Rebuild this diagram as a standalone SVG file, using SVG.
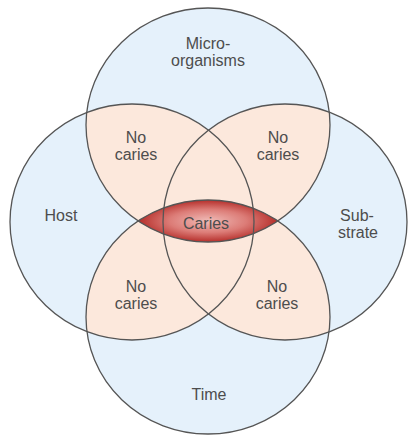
<svg xmlns="http://www.w3.org/2000/svg" xmlns:xlink="http://www.w3.org/1999/xlink" width="409" height="438" viewBox="0 0 409 438">
<style>
.fill{fill:#e5f1fb}
.peach{fill:#fce8dc}
.outline{fill:none;stroke:#555;stroke-width:1.3}
.lbl{font-family:"Liberation Sans",Arial,sans-serif;font-size:16px;fill:#4d4d4d;text-anchor:middle}
</style>
<defs>
<ellipse id="eTop" cx="208" cy="125" rx="122" ry="117"/>
<ellipse id="eBottom" cx="208" cy="317" rx="122" ry="117"/>
<ellipse id="eLeft" cx="132" cy="222" rx="122" ry="118"/>
<ellipse id="eRight" cx="285" cy="222" rx="122" ry="118"/>
<clipPath id="cTop"><use xlink:href="#eTop"/></clipPath>
<clipPath id="cBottom"><use xlink:href="#eBottom"/></clipPath>
<clipPath id="cLeft"><use xlink:href="#eLeft"/></clipPath>
<radialGradient id="gRed" cx="0.5" cy="0.5" r="0.5">
<stop offset="0" stop-color="#f0bcb8"/>
<stop offset="0.55" stop-color="#dc7c77"/>
<stop offset="1" stop-color="#b52e2a"/>
</radialGradient>
</defs>
<rect width="409" height="438" fill="#ffffff"/>
<g id="regions">
<use xlink:href="#eTop" class="fill"/>
<use xlink:href="#eBottom" class="fill"/>
<use xlink:href="#eLeft" class="fill"/>
<use xlink:href="#eRight" class="fill"/>
<use xlink:href="#eLeft" class="peach" clip-path="url(#cTop)"/>
<use xlink:href="#eRight" class="peach" clip-path="url(#cTop)"/>
<use xlink:href="#eLeft" class="peach" clip-path="url(#cBottom)"/>
<use xlink:href="#eRight" class="peach" clip-path="url(#cBottom)"/>
<use xlink:href="#eRight" class="peach" clip-path="url(#cLeft)"/>
</g>
<g id="caries">
<path d="M138.2,221 A122,117 0 0 1 277.8,221 A122,117 0 0 1 138.2,221 Z" fill="url(#gRed)"/>
<text class="lbl" x="206" y="229">Caries</text>
</g>
<g id="connectors"></g>
<g id="microorganisms">
<use xlink:href="#eTop" class="outline"/>
<text class="lbl" x="208" y="49">Micro-</text>
<text class="lbl" x="208" y="66">organisms</text>
</g>
<g id="host">
<use xlink:href="#eLeft" class="outline"/>
<text class="lbl" x="61" y="221">Host</text>
</g>
<g id="substrate">
<use xlink:href="#eRight" class="outline"/>
<text class="lbl" x="357" y="221">Sub-</text>
<text class="lbl" x="358" y="238">strate</text>
</g>
<g id="time">
<use xlink:href="#eBottom" class="outline"/>
<text class="lbl" x="209" y="400">Time</text>
</g>
<g id="nocaries-tl">
<text class="lbl" x="136" y="143">No</text>
<text class="lbl" x="136" y="160">caries</text>
</g>
<g id="nocaries-tr">
<text class="lbl" x="278" y="143">No</text>
<text class="lbl" x="278" y="160">caries</text>
</g>
<g id="nocaries-bl">
<text class="lbl" x="136" y="292">No</text>
<text class="lbl" x="136" y="309">caries</text>
</g>
<g id="nocaries-br">
<text class="lbl" x="277" y="292">No</text>
<text class="lbl" x="277" y="309">caries</text>
</g>
</svg>
